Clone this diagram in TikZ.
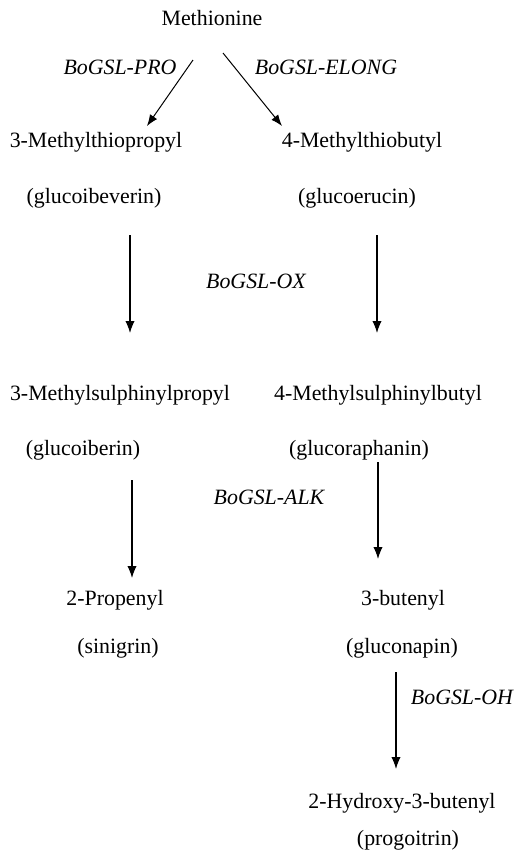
\documentclass[tikz,border=0pt]{standalone}
\usepackage{fontspec}
\setmainfont{Liberation Serif}
\usepackage{tikz}
\usetikzlibrary{arrows.meta}

\begin{document}
\begin{tikzpicture}[x=0.75pt,y=-0.75pt,
        every node/.style={font=\fontsize{16.4}{20}\selectfont, inner sep=0pt},
        gene/.style={font=\fontsize{16.4}{20}\selectfont\itshape},
        conv/.style={-{Latex[length=9pt,width=7pt]}, line width=0.85pt},
        diag/.style={-{Latex[length=8.5pt,width=6.5pt]}, line width=0.75pt}]
        \useasboundingbox (0,0) rectangle (515,857);

        \node (met) at (212,18) {Methionine};
        \node[gene] (pro) at (120,67) {BoGSL-PRO};
        \node[gene] (elong) at (326,67) {BoGSL-ELONG};
        \coordinate (p1) at (193,60);
        \coordinate (p2) at (147,126);
        \coordinate (e1) at (223,53);
        \coordinate (e2) at (282,126);
        \draw[diag] (p1) -- (p2);
        \draw[diag] (e1) -- (e2);

        \node (mtp) at (96,142) {3-Methylthiopropyl};
        \node (mtb) at (362,142) {4-Methylthiobutyl};
        \node (gib) at (94,198) {(glucoibeverin)};
        \node (ger) at (357,198) {(glucoerucin)};

        %\draw[gray] (0,0) grid (515,857);
        \coordinate (ox1) at (130,235);
        \coordinate (ox2) at (130,333);
        \coordinate (ox3) at (377,235);
        \coordinate (ox4) at (377,333);
        \draw[conv] (ox1) -- (ox2);
        \draw[conv] (ox3) -- (ox4);
        \node[gene] (ox) at (256,281) {BoGSL-OX};

        \node (msp) at (120,395) {3-Methylsulphinylpropyl};
        \node (msb) at (378,395) {4-Methylsulphinylbutyl};
        \node (gib2) at (83,450) {(glucoiberin)};
        \node (gra) at (359,450) {(glucoraphanin)};

        \coordinate (alk1) at (132,480);
        \coordinate (alk2) at (132,578);
        \coordinate (alk3) at (378,462);
        \coordinate (alk4) at (378,559);
        \draw[conv] (alk1) -- (alk2);
        \draw[conv] (alk3) -- (alk4);
        \node[gene] (alk) at (269,497) {BoGSL-ALK};

        \node (prp) at (115,600) {2-Propenyl};
        \node (sin) at (118,648) {(sinigrin)};
        \node (but) at (403,600) {3-butenyl};
        \node (gnp) at (402,648) {(gluconapin)};

        \coordinate (oh1) at (396,672);
        \coordinate (oh2) at (396,769);
        \draw[conv] (oh1) -- (oh2);
        \node[gene] (oh) at (462,697) {BoGSL-OH};

        \node (hbt) at (402,803) {2-Hydroxy-3-butenyl};
        \node (pgt) at (408,840) {(progoitrin)};
    \end{tikzpicture}
\end{document}
